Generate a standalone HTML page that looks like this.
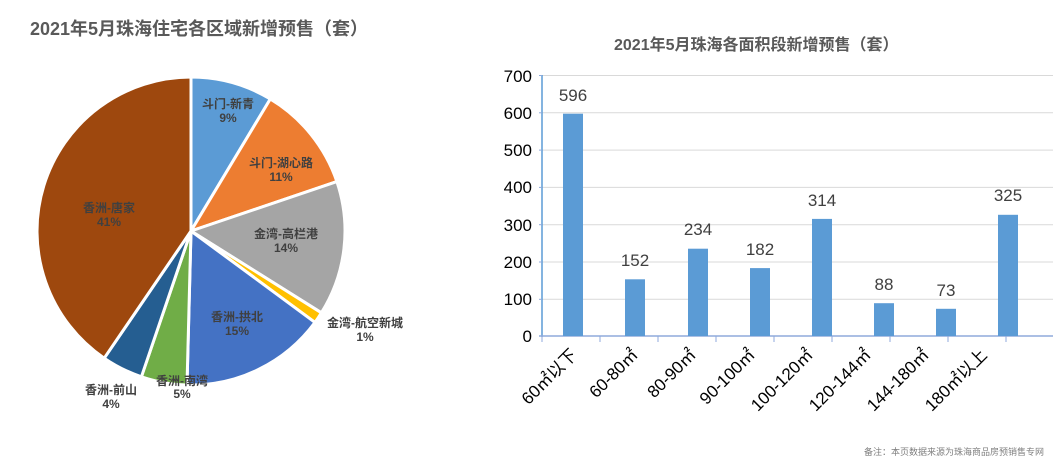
<!DOCTYPE html>
<html><head><meta charset="utf-8"><style>
html,body{margin:0;padding:0;background:#fff;}
svg{display:block;font-family:"Liberation Sans","Noto Sans CJK SC",sans-serif;}
</style></head><body>
<svg width="1062" height="465" viewBox="0 0 1062 465">
<rect width="1062" height="465" fill="#fff"/>
<text x="30" y="35" font-size="18" font-weight="bold" fill="#595959">2021年5月珠海住宅各区域新增预售（套）</text>
<g stroke="#fff" stroke-width="3" stroke-linejoin="round">
<path d="M191,231 L191,77 A154,154 0 0 1 270.3,99 Z" fill="#5b9bd5"/>
<path d="M191,231 L270.3,99 A154,154 0 0 1 336.9,181.6 Z" fill="#ed7d31"/>
<path d="M191,231 L336.9,181.6 A154,154 0 0 1 321.4,312.8 Z" fill="#a5a5a5"/>
<path d="M191,231 L321.4,312.8 A154,154 0 0 1 315,322.4 Z" fill="#ffc000"/>
<path d="M191,231 L315,322.4 A154,154 0 0 1 187,385 Z" fill="#4472c4"/>
<path d="M191,231 L187,385 A154,154 0 0 1 141.4,376.8 Z" fill="#70ad47"/>
<path d="M191,231 L141.4,376.8 A154,154 0 0 1 104.2,358.2 Z" fill="#255e91"/>
<path d="M191,231 L104.2,358.2 A154,154 0 0 1 191,77 Z" fill="#9e480e"/>
</g>
<g font-size="12" font-weight="bold" fill="#404040" text-anchor="middle">
<text x="228" y="108">斗门-新青</text><text x="228" y="122">9%</text>
<text x="281" y="167">斗门-湖心路</text><text x="281" y="181">11%</text>
<text x="286" y="238">金湾-高栏港</text><text x="286" y="252">14%</text>
<text x="365" y="327">金湾-航空新城</text><text x="365" y="341">1%</text>
<text x="237" y="321">香洲-拱北</text><text x="237" y="335">15%</text>
<text x="182" y="385">香洲-南湾</text><text x="182" y="398">5%</text>
<text x="111" y="394">香洲-前山</text><text x="111" y="408">4%</text>
<text x="109" y="212">香洲-唐家</text><text x="109" y="226">41%</text>
</g>
<text x="614" y="50" font-size="16" font-weight="bold" fill="#595959">2021年5月珠海各面积段新增预售（套）</text>
<g stroke="#d9d9d9" stroke-width="1">
<line x1="542" y1="75.5" x2="1053" y2="75.5"/>
<line x1="542" y1="112.8" x2="1053" y2="112.8"/>
<line x1="542" y1="150.1" x2="1053" y2="150.1"/>
<line x1="542" y1="187.4" x2="1053" y2="187.4"/>
<line x1="542" y1="224.7" x2="1053" y2="224.7"/>
<line x1="542" y1="262" x2="1053" y2="262"/>
<line x1="542" y1="299.3" x2="1053" y2="299.3"/>
</g>
<line x1="542" y1="75" x2="542" y2="337" stroke="#5b9bd5" stroke-width="1.5"/>
<line x1="539" y1="336" x2="1053" y2="336" stroke="#8faadc" stroke-width="1.5"/>
<g stroke="#8faadc" stroke-width="1">
<line x1="539" y1="75.5" x2="542" y2="75.5"/><line x1="539" y1="112.8" x2="542" y2="112.8"/><line x1="539" y1="150.1" x2="542" y2="150.1"/><line x1="539" y1="187.4" x2="542" y2="187.4"/><line x1="539" y1="224.7" x2="542" y2="224.7"/><line x1="539" y1="262" x2="542" y2="262"/><line x1="539" y1="299.3" x2="542" y2="299.3"/>
<line x1="542" y1="336" x2="542" y2="342"/><line x1="600" y1="336" x2="600" y2="342"/><line x1="658" y1="336" x2="658" y2="342"/><line x1="716" y1="336" x2="716" y2="342"/><line x1="774" y1="336" x2="774" y2="342"/><line x1="832" y1="336" x2="832" y2="342"/><line x1="890" y1="336" x2="890" y2="342"/><line x1="948" y1="336" x2="948" y2="342"/><line x1="1006" y1="336" x2="1006" y2="342"/>
</g>
<g font-size="17" fill="#000" text-anchor="end">
<text x="532" y="82">700</text><text x="532" y="119">600</text><text x="532" y="156">500</text><text x="532" y="193">400</text><text x="532" y="231">300</text><text x="532" y="268">200</text><text x="532" y="305">100</text><text x="532" y="342">0</text>
</g>
<g fill="#5b9bd5">
<rect x="563" y="113.7" width="20" height="222.3"/>
<rect x="625" y="279.3" width="20" height="56.7"/>
<rect x="688" y="248.7" width="20" height="87.3"/>
<rect x="750" y="268.1" width="20" height="67.9"/>
<rect x="812" y="218.9" width="20" height="117.1"/>
<rect x="874" y="303.2" width="20" height="32.8"/>
<rect x="936" y="308.8" width="20" height="27.2"/>
<rect x="998" y="214.8" width="20" height="121.2"/>
</g>
<g font-size="17" fill="#404040" text-anchor="middle">
<text x="573" y="101">596</text><text x="635" y="266">152</text><text x="698" y="235">234</text><text x="760" y="255">182</text><text x="822" y="206">314</text><text x="884" y="290">88</text><text x="946" y="296">73</text><text x="1008" y="201">325</text>
</g>
<g font-size="17" fill="#000" text-anchor="end">
<text transform="translate(578,356) rotate(-45)">60㎡以下</text>
<text transform="translate(639,356) rotate(-45)">60-80㎡</text>
<text transform="translate(697,356) rotate(-45)">80-90㎡</text>
<text transform="translate(756,356) rotate(-45)">90-100㎡</text>
<text transform="translate(814,356) rotate(-45)">100-120㎡</text>
<text transform="translate(872,356) rotate(-45)">120-144㎡</text>
<text transform="translate(930,356) rotate(-45)">144-180㎡</text>
<text transform="translate(988,356) rotate(-45)">180㎡以上</text>
</g>
<text x="1044" y="455" font-size="9" fill="#7f7f7f" text-anchor="end">备注：本页数据来源为珠海商品房预销售专网</text>
</svg>
</body></html>
